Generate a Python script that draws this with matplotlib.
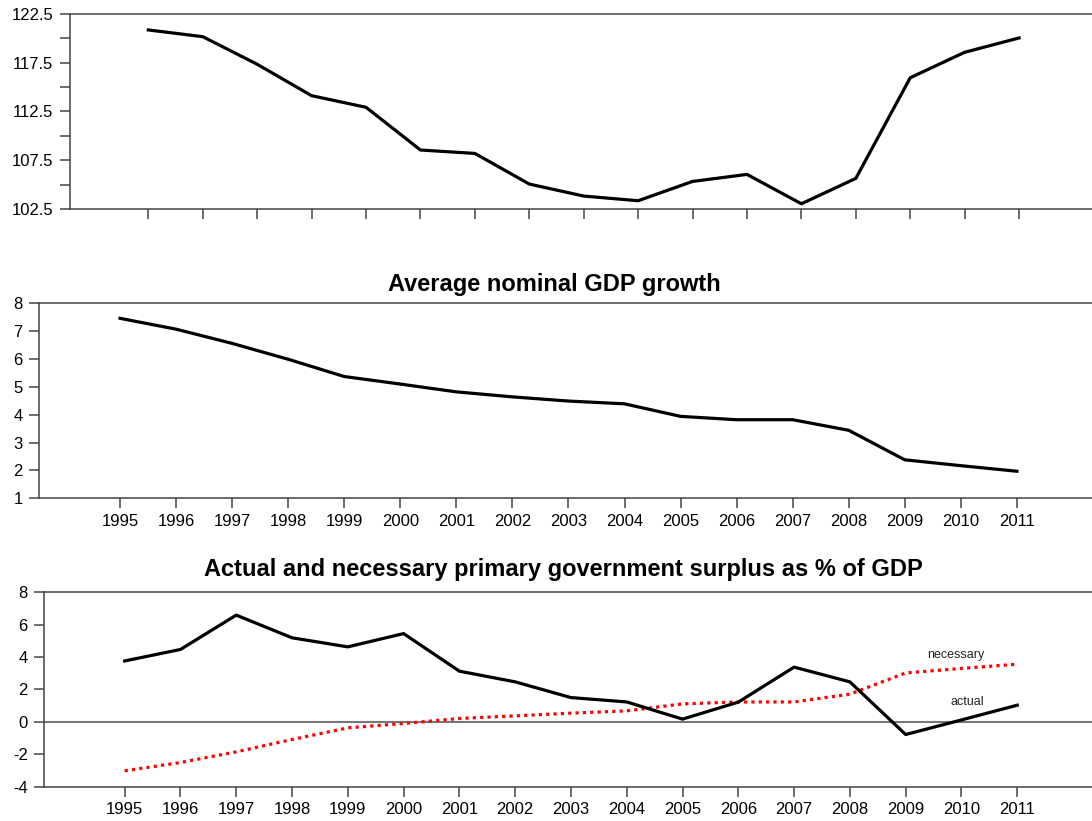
import numpy as np
import matplotlib.pyplot as plt
from matplotlib.ticker import MultipleLocator

plt.rcParams['font.family'] = ['Liberation Sans', 'DejaVu Sans']

years = list(range(1995, 2012))

# top panel (no title)
top_vals = [120.86, 120.17, 117.34, 114.12, 112.93, 108.55, 108.2, 105.06, 103.83,
            103.35, 105.33, 106.05, 103.04, 105.64, 115.96, 118.57, 120.04]

# average nominal GDP growth
gdp_growth = [7.46, 7.07, 6.56, 5.99, 5.37, 5.1, 4.82, 4.64, 4.49, 4.39,
              3.94, 3.82, 3.82, 3.44, 2.38, 2.17, 1.97]

# primary surplus, % of GDP
actual = [3.76, 4.47, 6.59, 5.19, 4.63, 5.45, 3.13, 2.47, 1.5, 1.23,
          0.17, 1.22, 3.38, 2.47, -0.78, 0.12, 1.03]
necessary = [-3.02, -2.51, -1.85, -1.09, -0.37, -0.1, 0.21, 0.37, 0.54, 0.68,
             1.11, 1.23, 1.23, 1.71, 3.02, 3.3, 3.56]

spine_col = '#444444'
xlim = (1993.56, 2012.34)

fig = plt.figure(figsize=(10.92, 8.21), dpi=100)


def style(ax, labels=True):
    ax.set_xlim(*xlim)
    ax.set_xticks(years)
    if labels:
        ax.set_xticklabels([str(y) for y in years])
    else:
        ax.set_xticklabels([])
    ax.spines['right'].set_visible(False)
    for s in ['left', 'top', 'bottom']:
        ax.spines[s].set_color(spine_col)
        ax.spines[s].set_linewidth(1.1)
    ax.tick_params(axis='both', which='both', direction='out', length=7,
                   width=1.1, color=spine_col, labelsize=12, pad=5)
    ax.tick_params(axis='x', pad=4)


# top
ax1 = fig.add_axes([0.0641, 0.7454, 1.0 - 0.0641, 0.983 - 0.7454])
ax1.plot(years, top_vals, color='black', lw=2.3)
ax1.set_ylim(102.5, 122.5)
ax1.yaxis.set_minor_locator(MultipleLocator(2.5))
ax1.set_yticks(np.arange(102.5, 122.6, 5))
ax1.set_yticklabels(['102.5', '107.5', '112.5', '117.5', '122.5'])
style(ax1, labels=False)

# middle
ax2 = fig.add_axes([0.036, 0.3931, 1.0 - 0.036, 0.6306 - 0.3931])
ax2.plot(years, gdp_growth, color='black', lw=2.3)
ax2.set_ylim(1, 8)
ax2.set_yticks(range(1, 9))
style(ax2)
fig.text(0.508, 0.654, 'Average nominal GDP growth', ha='center', va='center',
         fontsize=17, fontweight='bold')

# bottom
ax3 = fig.add_axes([0.0406, 0.0418, 1.0 - 0.0406, 0.2786 - 0.0418])
ax3.axhline(0, color='#777777', lw=1.5, zorder=1)
ax3.plot(years, actual, color='black', lw=2.3, zorder=3)
ax3.plot(years, necessary, color='#ff0000', lw=2.3, linestyle=(0, (1, 1.3)),
         dash_capstyle='butt', zorder=2)
ax3.set_ylim(-4, 8)
ax3.set_yticks(range(-4, 9, 2))
ax3.set_yticklabels([str(v) for v in range(-4, 9, 2)])
style(ax3)
ax3.text(2009.9, 4.1, 'necessary', ha='center', va='center', fontsize=9, color='#222222')
ax3.text(2010.1, 1.2, 'actual', ha='center', va='center', fontsize=9, color='#222222')
fig.text(0.516, 0.306, 'Actual and necessary primary government surplus as % of GDP',
         ha='center', va='center', fontsize=17, fontweight='bold')

fig.savefig('out.png', dpi=100)
